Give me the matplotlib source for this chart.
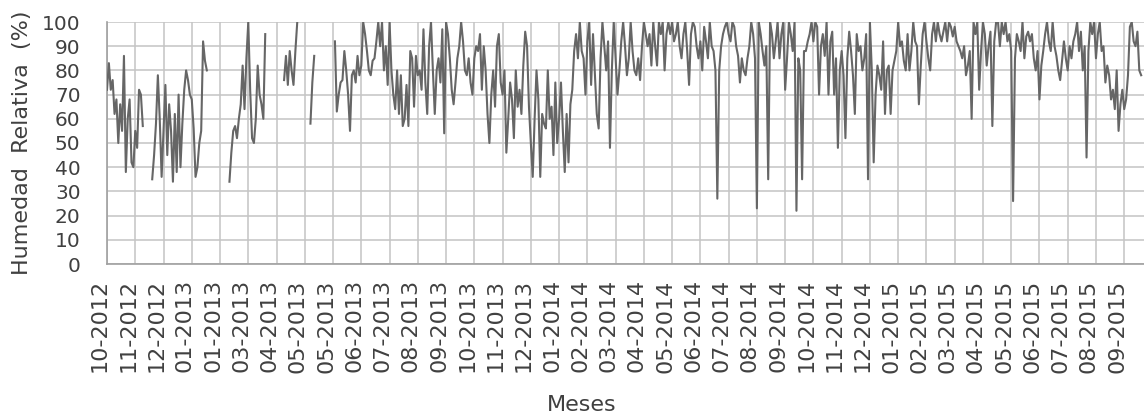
import matplotlib
matplotlib.use('Agg')
import matplotlib.pyplot as plt
import matplotlib.transforms as mtransforms
import numpy as np
import pandas as pd

nan = np.nan

# humedad relativa diaria, una lectura cada 2 dias desde 03-10-2012
start = pd.Timestamp('2012-10-03')
rh = [
    # 10-2012 .. 11-2012
    72, 83, 72, 76, 62, 68, 50, 66, 55, 86, 38, 60, 68, 42, 40, 55, 48, 72, 70, 57,
    nan, nan, nan, nan,
    35, 45, 58, 78, 60, 36, 55, 74, 45, 66, 55, 34, 62, 38, 70, 40, 58, 72, 80, 76,
    70, 68, 56, 36, 40, 50, 55, 92, 84, 80,
    nan, nan, nan, nan, nan, nan, nan, nan, nan, nan, nan,
    34, 46, 55, 57, 52, 60, 66, 82, 64, 85, 100, 72, 52, 50, 60, 82, 70, 66, 60, 95,
    nan, nan, nan, nan, nan, nan, nan, nan, nan,
    76, 86, 74, 88, 80, 74, 88, 100,
    nan, nan, nan, nan, nan, nan,
    58, 75, 86,
    nan, nan, nan, nan, nan, nan, nan, nan, nan, nan,
    # 06-2013 .. 02-2014
    92, 63, 70, 75, 76, 88, 80, 70, 55, 78, 80, 75, 86, 78, 82, 100,
    95, 88, 80, 78, 84, 85, 92, 100, 90, 100, 80, 90, 74, 100, 80, 70,
    64, 80, 62, 78, 57, 60, 74, 57, 88, 85, 65, 86, 78, 80, 72, 97,
    75, 62, 90, 100, 80, 62, 80, 85, 75, 97, 54, 100, 95, 85, 72, 66,
    75, 85, 90, 100, 92, 80, 78, 85, 75, 70, 85, 90, 88, 95, 72, 90,
    80, 62, 50, 70, 80, 65, 90, 95, 75, 70, 80, 46, 60, 75, 68, 52,
    80, 65, 72, 62, 82, 96, 90, 65, 50, 36, 60, 80, 68, 36, 62, 58,
    56, 80, 60, 65, 45, 75, 50, 60, 75, 55, 38, 62, 42, 66, 72, 88,
    95, 85, 100,
    # 02-2014 .. 12-2014
    88, 85, 70, 92, 100, 74, 95, 78, 62, 56, 85, 100, 90, 80, 92, 48,
    80, 100, 85, 70, 80, 92, 100, 90, 78, 85, 100, 88, 80, 78, 85, 76,
    90, 100, 95, 90, 95, 82, 100, 90, 82, 100, 95, 100, 80, 95, 100, 95,
    100, 92, 95, 100, 90, 85, 95, 100, 88, 74, 95, 100, 98, 90, 85, 92,
    80, 98, 92, 85, 100, 90, 88, 80, 27, 80, 90, 95, 98, 100, 95, 92,
    100, 98, 90, 86, 75, 85, 80, 78, 85, 90, 100, 95, 85, 23, 100, 95,
    88, 82, 90, 35, 100, 95, 85, 92, 100, 85, 95, 100, 72, 85, 100, 95,
    88, 100, 22, 85, 80, 35, 88, 88, 92, 95, 100, 92, 100, 98, 70, 90,
    95, 86, 100, 70, 92, 96, 70, 85, 48, 80, 88, 78, 52, 85, 96, 88,
    78, 62, 95, 88, 90, 80,
    # 12-2014 .. 09-2015
    85, 95, 35, 100, 80, 42, 70, 82, 78, 72, 92, 62, 80, 82, 62, 80,
    84, 88, 100, 90, 92, 84, 80, 95, 80, 88, 100, 92, 90, 66, 82, 95,
    100, 92, 85, 80, 95, 100, 92, 100, 95, 92, 96, 100, 92, 100, 98, 94,
    98, 92, 90, 88, 85, 90, 78, 82, 88, 60, 100, 95, 100, 72, 88, 100,
    95, 82, 90, 96, 57, 92, 100, 100, 90, 100, 95, 100, 92, 95, 88, 26,
    85, 95, 92, 88, 100, 85, 94, 96, 92, 95, 85, 80, 88, 68, 82, 88,
    95, 100, 92, 88, 100, 90, 86, 80, 76, 84, 92, 85, 80, 90, 85, 92,
    95, 100, 88, 96, 80, 90, 44, 88, 100, 95, 100, 85, 95, 100, 88, 90,
    75, 82, 78, 68, 72, 64, 80, 55, 66, 72, 64, 68, 78, 98, 100, 92,
    90, 96, 80, 78,
]

tick_labels = ['10-2012', '11-2012', '12-2012', '01-2013', '01-2013', '03-2013',
               '04-2013', '05-2013', '05-2013', '06-2013', '07-2013', '08-2013',
               '09-2013', '10-2013', '11-2013', '12-2013', '01-2014', '02-2014',
               '03-2014', '04-2014', '05-2014', '06-2014', '07-2014', '08-2014',
               '09-2014', '10-2014', '11-2014', '12-2014', '01-2015', '02-2015',
               '03-2015', '04-2015', '05-2015', '06-2015', '07-2015', '08-2015',
               '09-2015']

dates = pd.date_range(start, periods=len(rh), freq='2D')
ticks = [start + pd.Timedelta(days=30 * i) for i in range(len(tick_labels))]

txt = '#404040'
W, H = 1144, 419
fig = plt.figure(figsize=(W / 100, H / 100), dpi=100)
ax = fig.add_axes([107 / W, 1 - 264 / H, (W - 107) / W, 242 / H])

ax.plot(dates, rh, color='#666666', lw=1.5, zorder=3)

ax.set_xlim(start, start + pd.Timedelta(days=1101))
ax.set_ylim(0, 100)
ax.set_yticks(range(0, 101, 10))
ax.set_xticks(ticks)
ax.set_xticklabels(tick_labels, rotation=90, fontsize=16, color=txt)
ax.tick_params(axis='y', labelsize=14.5, labelcolor=txt, length=0, pad=19)
ax.tick_params(axis='x', length=0, pad=11)
ax.grid(True, color='#c4c4c4', lw=1.1)
ax.set_axisbelow(True)

shift = mtransforms.ScaledTranslation(-7 / 100, 0, fig.dpi_scale_trans)
for lab in ax.get_xticklabels():
    lab.set_transform(lab.get_transform() + shift)

for s in ['top', 'right']:
    ax.spines[s].set_visible(False)
ax.spines['left'].set_color('#a0a0a0')
ax.spines['bottom'].set_color('#a0a0a0')
ax.spines['left'].set_linewidth(1.2)
ax.spines['bottom'].set_linewidth(1.2)

fig.text(22 / W, 1 - 143 / H, 'Humedad  Relativa  (%)', rotation=90,
         ha='center', va='center', fontsize=16, color=txt)
fig.text(582 / W, 1 - 405 / H, 'Meses', ha='center', va='center',
         fontsize=16, color=txt)

fig.savefig('out.png', dpi=100)
